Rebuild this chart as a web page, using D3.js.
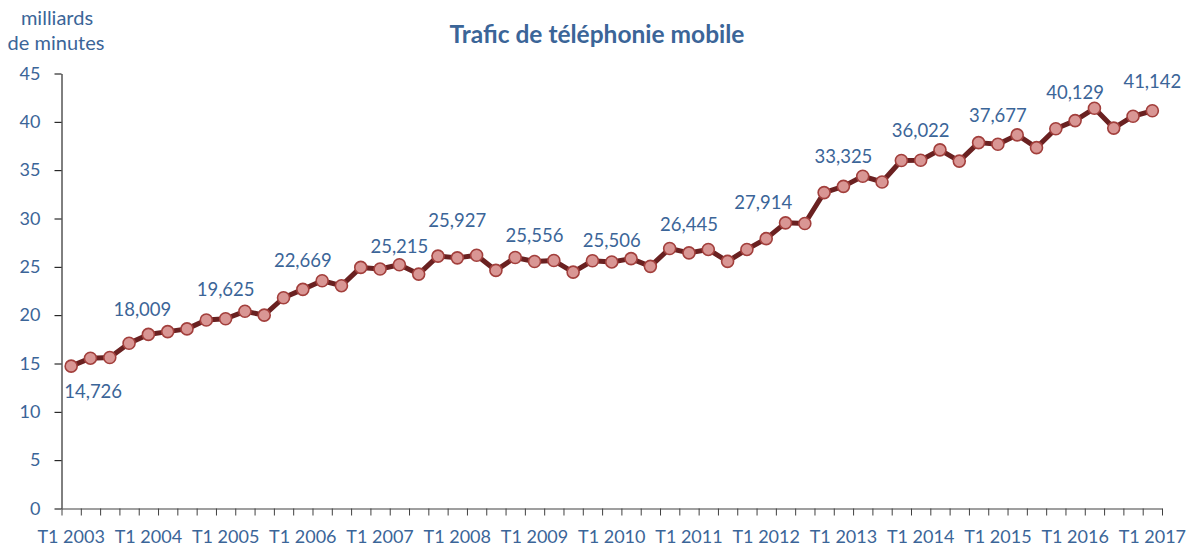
<!DOCTYPE html>
<html>
<head>
<meta charset="utf-8">
<script src="https://cdn.jsdelivr.net/npm/d3@7"></script>
<style>
  body { margin: 0; background: #fff; }
  text { font-family: Lato, "Open Sans", sans-serif; }
</style>
</head>
<body>
<div id="chart"></div>
<script>
// quarters T1 2003 .. T1 2017
const quarters = [
  "T1 2003","T2 2003","T3 2003","T4 2003",
  "T1 2004","T2 2004","T3 2004","T4 2004",
  "T1 2005","T2 2005","T3 2005","T4 2005",
  "T1 2006","T2 2006","T3 2006","T4 2006",
  "T1 2007","T2 2007","T3 2007","T4 2007",
  "T1 2008","T2 2008","T3 2008","T4 2008",
  "T1 2009","T2 2009","T3 2009","T4 2009",
  "T1 2010","T2 2010","T3 2010","T4 2010",
  "T1 2011","T2 2011","T3 2011","T4 2011",
  "T1 2012","T2 2012","T3 2012","T4 2012",
  "T1 2013","T2 2013","T3 2013","T4 2013",
  "T1 2014","T2 2014","T3 2014","T4 2014",
  "T1 2015","T2 2015","T3 2015","T4 2015",
  "T1 2016","T2 2016","T3 2016","T4 2016",
  "T1 2017"
];

// milliards de minutes
const traffic = [
  14.726, 15.55, 15.62, 17.10,
  18.009, 18.30, 18.58, 19.50,
  19.625, 20.40, 20.00, 21.80,
  22.669, 23.56, 23.05, 24.94,
  24.77, 25.215, 24.25, 26.11,
  25.927, 26.20, 24.63, 25.97,
  25.556, 25.65, 24.45, 25.63,
  25.506, 25.85, 25.05, 26.90,
  26.445, 26.80, 25.56, 26.80,
  27.914, 29.55, 29.48, 32.68,
  33.325, 34.37, 33.78, 36.00,
  36.022, 37.10, 35.94, 37.85,
  37.677, 38.65, 37.33, 39.28,
  40.129, 41.40, 39.35, 40.58,
  41.142
];

const xTickLabels = ["T1 2003","T1 2004","T1 2005","T1 2006","T1 2007","T1 2008","T1 2009",
  "T1 2010","T1 2011","T1 2012","T1 2013","T1 2014","T1 2015","T1 2016","T1 2017"];
const yTicks = [0, 5, 10, 15, 20, 25, 30, 35, 40, 45];

// quarters that carry a value label
const labelled = ["T1 2003","T1 2004","T1 2005","T1 2006","T2 2007","T1 2008","T1 2009",
  "T1 2010","T1 2011","T1 2012","T1 2013","T1 2014","T1 2015","T1 2016","T1 2017"];

// label placement relative to its marker: [dx, baseline offset above marker]
const labelNudge = [[22, -32], [-6, 18], [0, 23], [0, 22], [0, 12], [0, 31], [0, 19], [0, 15],
  [0, 22], [-3, 30], [0, 23], [0, 23], [0, 22], [0, 22], [0, 23]];

const width = 1196, height = 551;
const textColor = "#3b6598";

const svg = d3.select("#chart").append("svg")
    .attr("width", width)
    .attr("height", height);

const x = d3.scaleBand().domain(quarters).range([61.5, 1162]);
const xEdge = d3.scaleLinear().domain([0, quarters.length]).range([61.5, 1162]);
const y = d3.scaleLinear().domain([0, 45]).range([508.5, 73.5]);
const cx = d => x(d) + x.bandwidth() / 2;

// title + unit
svg.append("text")
    .attr("x", 597).attr("y", 43)
    .attr("text-anchor", "middle")
    .attr("font-size", "24.5px").attr("font-weight", "bold")
    .attr("fill", textColor)
    .text("Trafic de téléphonie mobile");

svg.append("text")
    .attr("x", 57).attr("y", 25)
    .attr("text-anchor", "middle")
    .attr("font-size", "20px").attr("fill", textColor)
    .text("milliards");
svg.append("text")
    .attr("x", 56).attr("y", 50)
    .attr("text-anchor", "middle")
    .attr("font-size", "20px").attr("fill", textColor)
    .text("de minutes");

// y axis
const yAxis = svg.append("g")
    .attr("transform", "translate(61.5,0)")
    .call(d3.axisLeft(y).tickValues(yTicks).tickSize(7).tickSizeOuter(0).tickPadding(14));
yAxis.select(".domain").attr("stroke", "#000");
yAxis.selectAll(".tick line").attr("stroke", "#000");
yAxis.selectAll(".tick text")
    .attr("font-size", "18px").attr("fill", textColor)
    .attr("font-family", "Lato, sans-serif");

// x axis (ticks between quarters)
const xAxis = svg.append("g")
    .attr("transform", "translate(0," + y(0) + ")")
    .call(d3.axisBottom(xEdge).tickValues(d3.range(quarters.length + 1)).tickFormat("").tickSize(7).tickSizeOuter(0));
xAxis.select(".domain").attr("stroke", "#7f7f7f").attr("stroke-width", 1.5);
xAxis.selectAll(".tick line").attr("stroke", "#404040");

svg.append("g").selectAll("text")
    .data(xTickLabels)
    .join("text")
    .attr("x", d => cx(d))
    .attr("y", 543)
    .attr("text-anchor", "middle")
    .attr("font-size", "18px")
    .attr("fill", textColor)
    .text(d => d);

// line + markers
const pts = quarters.map((q, i) => ({q: q, v: traffic[i]}));

svg.append("path")
    .datum(pts)
    .attr("fill", "none")
    .attr("stroke", "#6a2121")
    .attr("stroke-width", 5)
    .attr("stroke-linejoin", "round")
    .attr("d", d3.line().x(d => cx(d.q)).y(d => y(d.v)));

svg.append("g").selectAll("circle")
    .data(pts)
    .join("circle")
    .attr("cx", d => cx(d.q))
    .attr("cy", d => y(d.v))
    .attr("r", 6)
    .attr("fill", "#d99694")
    .attr("stroke", "#a23f3c")
    .attr("stroke-width", 1.6);

// value labels
const fmt = v => d3.format(".3f")(v).replace(".", ",");
svg.append("g").selectAll("text")
    .data(labelled)
    .join("text")
    .attr("x", (d, i) => cx(d) + labelNudge[i][0])
    .attr("y", (d, i) => y(traffic[quarters.indexOf(d)]) - labelNudge[i][1])
    .attr("text-anchor", "middle")
    .attr("font-size", "18.5px")
    .attr("fill", textColor)
    .text(d => fmt(traffic[quarters.indexOf(d)]));
</script>
</body>
</html>
